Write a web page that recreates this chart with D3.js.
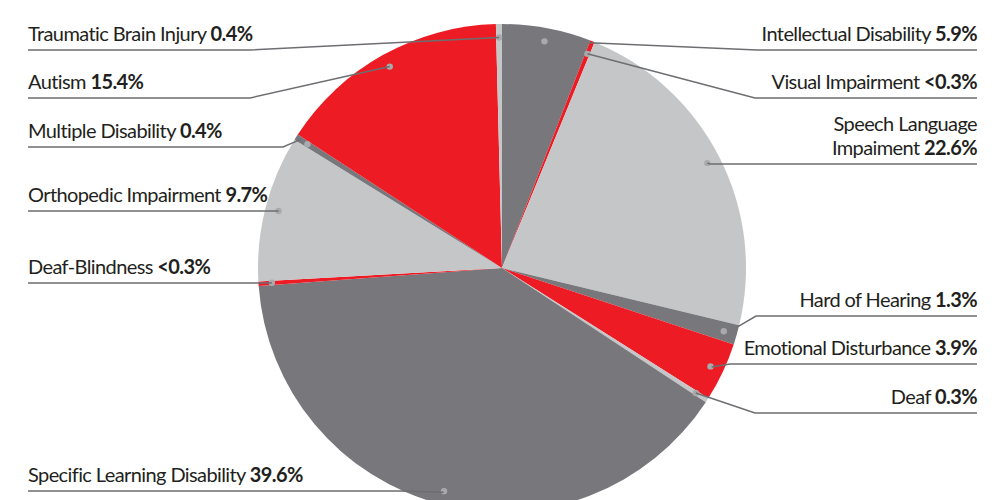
<!DOCTYPE html>
<html>
  <head>
    <title>Disability categories</title>
  <script src="https://d3js.org/d3.v7.min.js"></script>
  <style>
    body { margin: 0; background: #fff; }
    text { font-family: Lato, sans-serif; fill: #231f20; }
  </style>
 </head>
  <body>

<script type="text/javascript">

// data, clockwise from 12 o'clock
var categories = ["Intellectual Disability", "Visual Impairment", "Speech Language\nImpaiment",
                  "Hard of Hearing", "Emotional Disturbance", "Deaf",
                  "Specific Learning Disability", "Deaf-Blindness", "Orthopedic Impairment",
                  "Multiple Disability", "Autism", "Traumatic Brain Injury"];
var values = [5.9, 0.3, 22.6, 1.3, 3.9, 0.3, 39.6, 0.3, 9.7, 0.4, 15.4, 0.4];
var valueLabels = ["5.9%", "<0.3%", "22.6%", "1.3%", "3.9%", "0.3%",
                   "39.6%", "<0.3%", "9.7%", "0.4%", "15.4%", "0.4%"];

// label layout: side, underline y, elbow x, where the leader ends (t along slice, r fraction)
var layout = [
  {side: "r", y: 50,  ex: 757, t: 1.0, rf: 0.99},
  {side: "r", y: 98,  ex: 755, t: 0.5, rf: 0.945},
  {side: "r", y: 164, ex: 710, t: 0.5, rf: 0.945},
  {side: "r", y: 316, ex: 756, t: 0.1, rf: 0.995},
  {side: "r", y: 364, ex: 730, t: 0.5, rf: 0.95},
  {side: "r", y: 413, ex: 755, t: 0.5, rf: 0.945},
  {side: "l", y: 491, ex: 400, t: 0.5, rf: 0.95},
  {side: "l", y: 283, ex: 270, t: 0.5, rf: 0.945},
  {side: "l", y: 211, ex: 278, t: 0.5, rf: 0.945},
  {side: "l", y: 147, ex: 283, t: 0.5, rf: 0.98},
  {side: "l", y: 98,  ex: 250, t: 0.5, rf: 0.945},
  {side: "l", y: 50,  ex: 250, t: 0.5, rf: 0.945}
];

var width = 1000, height = 500;
var cx = 502, cy = 268, radius = 244;
var leftX = 28, rightX = 977;

var svg = d3.select("body").append("svg")
    .attr("width", width)
    .attr("height", height);

var color = d3.scaleOrdinal()
    .domain(d3.range(3))
    .range(["#78777c", "#ed1c24", "#c5c6c8"]);

var pie = d3.pie().sort(null).value(function(d) { return d; });
var arcs = pie(values);
var arc = d3.arc().innerRadius(0).outerRadius(radius);

var g = svg.append("g").attr("transform", "translate(" + cx + "," + cy + ")");

g.selectAll("path.slice")
    .data(arcs)
    .enter().append("path")
    .attr("class", "slice")
    .attr("d", arc)
    .attr("fill", function(d, i) { return color(i % 3); });

function pt(d, t, rf) {
  var a = d.startAngle + (d.endAngle - d.startAngle) * t;
  return [cx + Math.sin(a) * radius * rf, cy - Math.cos(a) * radius * rf];
}

// dots
svg.selectAll("circle.dot")
    .data(arcs)
    .enter().append("circle")
    .attr("class", "dot")
    .attr("cx", function(d) { return pt(d, 0.5, 0.945)[0]; })
    .attr("cy", function(d) { return pt(d, 0.5, 0.945)[1]; })
    .attr("r", 3.2)
    .attr("fill", "#a9aaad");

// leader lines
var line = d3.line();
svg.selectAll("path.leader")
    .data(arcs)
    .enter().append("path")
    .attr("class", "leader")
    .attr("fill", "none")
    .attr("stroke", "#6d6e71")
    .attr("stroke-width", 1.5)
    .attr("d", function(d, i) {
      var L = layout[i];
      var p = pt(d, L.t, L.rf);
      var x0 = L.side == "l" ? leftX : rightX;
      return line([[x0, L.y], [L.ex, L.y], p]);
    });

// labels
var labels = svg.selectAll("text.lab")
    .data(categories)
    .enter().append("text")
    .attr("class", "lab")
    .attr("font-size", 20)
    .attr("letter-spacing", -0.6)
    .attr("text-anchor", function(d, i) { return layout[i].side == "l" ? "start" : "end"; })
    .attr("x", function(d, i) { return layout[i].side == "l" ? leftX : rightX; })
    .attr("y", function(d, i) { return layout[i].y - 9; });

labels.each(function(d, i) {
  var t = d3.select(this);
  var parts = d.split("\n");
  if (parts.length > 1) {
    t.append("tspan").attr("x", rightX).attr("dy", "-1.2em").text(parts[0]);
    t.append("tspan").attr("x", rightX).attr("dy", "1.2em").text(parts[1] + " ");
  } else {
    t.append("tspan").text(parts[0] + " ");
  }
  t.append("tspan").attr("font-weight", "bold").text(valueLabels[i]);
});

// source line, cut by the bottom edge as in the original
svg.append("text")
    .attr("x", 733)
    .attr("y", 514)
    .attr("font-size", 20)
    .attr("letter-spacing", -0.6)
    .attr("fill", "#58595b")
    .text("Source: California Department of Education");

</script>

</body>
</html>
